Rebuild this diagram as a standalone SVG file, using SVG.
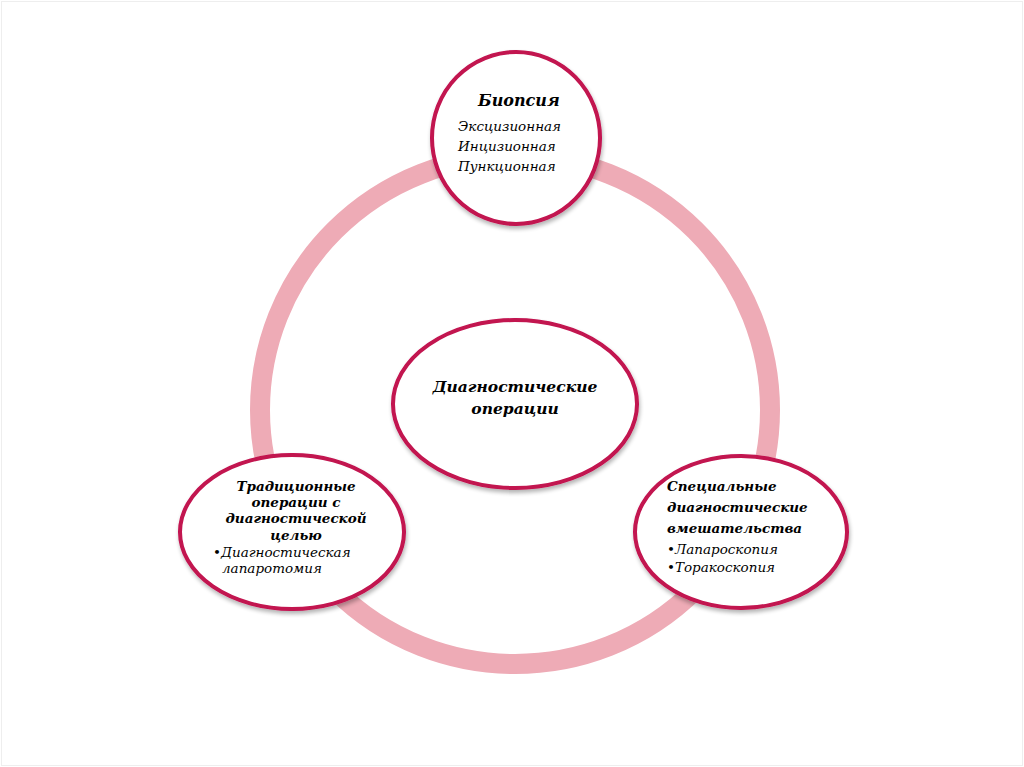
<svg xmlns="http://www.w3.org/2000/svg" width="1024" height="767" viewBox="0 0 1024 767">
<defs>
<filter id="sh" x="-20%" y="-20%" width="140%" height="140%">
<feGaussianBlur in="SourceAlpha" stdDeviation="2"/>
<feOffset dx="1" dy="3"/>
<feComponentTransfer><feFuncA type="linear" slope="0.3"/></feComponentTransfer>
<feMerge><feMergeNode/><feMergeNode in="SourceGraphic"/></feMerge>
</filter>
</defs>
<style>
.node{fill:#fff;stroke:#C2124F;stroke-width:4;filter:url(#sh)}
.t{font-family:"DejaVu Serif","Liberation Serif",serif;fill:#000}
.b{font-weight:bold;font-style:italic;font-size:13.5px}
.i{font-style:italic;font-size:13.5px}
</style>
<rect x="0" y="0" width="1024" height="767" fill="#fff"/>
<rect x="1.5" y="1.5" width="1021" height="764" fill="none" stroke="#eeeeee" stroke-width="1"/>
<g id="connectors">
<ellipse cx="515" cy="410" rx="255" ry="254" fill="none" stroke="#EEABB6" stroke-width="20"/>
</g>
<g id="center">
<ellipse class="node" cx="515" cy="404" rx="122" ry="84"/>
<text class="t b" text-anchor="middle" x="515" y="392" style="font-size:15.5px">Диагностические</text>
<text class="t b" text-anchor="middle" x="515" y="414" style="font-size:15.5px">операции</text>
</g>
<g id="biopsy">
<ellipse class="node" cx="516" cy="138" rx="84" ry="86"/>
<text class="t b" x="478" y="106" style="font-size:16px">Биопсия</text>
<text class="t i" x="458" y="131">Эксцизионная</text>
<text class="t i" x="458" y="151">Инцизионная</text>
<text class="t i" x="458" y="171">Пункционная</text>
</g>
<g id="traditional">
<ellipse class="node" cx="292" cy="532" rx="112" ry="77"/>
<text class="t b" text-anchor="middle" x="296" y="491">Традиционные</text>
<text class="t b" text-anchor="middle" x="296" y="507">операции с</text>
<text class="t b" text-anchor="middle" x="296" y="523">диагностической</text>
<text class="t b" text-anchor="middle" x="296" y="540">целью</text>
<text class="t i" x="213" y="557">•Диагностическая</text>
<text class="t i" x="222" y="573">лапаротомия</text>
</g>
<g id="special">
<ellipse class="node" cx="741" cy="532" rx="106" ry="76"/>
<text class="t b" x="667" y="491">Специальные</text>
<text class="t b" x="667" y="512">диагностические</text>
<text class="t b" x="667" y="533">вмешательства</text>
<text class="t i" x="667" y="554">•Лапароскопия</text>
<text class="t i" x="667" y="572">•Торакоскопия</text>
</g>
</svg>
